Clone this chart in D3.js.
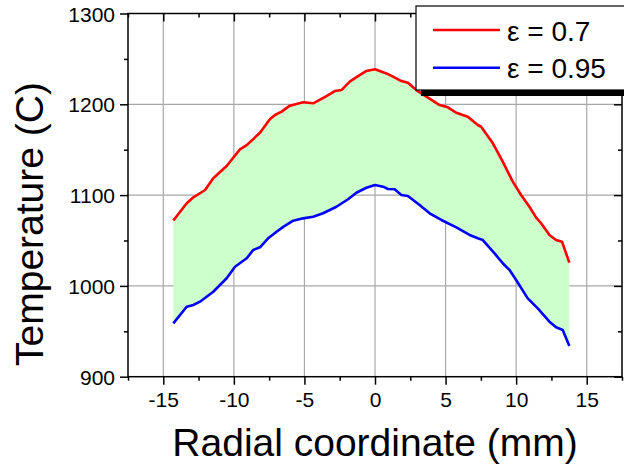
<!DOCTYPE html>
<html><head><meta charset="utf-8">
<script src="https://cdn.jsdelivr.net/npm/d3@7"></script>
<style>body{margin:0;background:#fff;}svg{display:block;font-family:"Liberation Sans",Arial,sans-serif;}</style>
</head><body>
<svg id="c" width="624" height="465"></svg>
<script>
const xTicks = [-15, -10, -5, 0, 5, 10, 15];
const yTicks = [900, 1000, 1100, 1200, 1300];
const seriesNames = ["ε = 0.7", "ε = 0.95"];
const xRed = [-14.29,-13.34,-12.87,-12.04,-11.46,-10.51,-9.57,-9.09,-8.15,-7.45,-7.09,-6.62,-6.03,-5.09,-4.38,-3.44,-2.85,-2.38,-1.79,-1.2,-0.61,0,0.81,1.27,1.87,2.33,2.93,3.64,4.58,5.16,5.76,6.58,7.28,7.52,8.35,9.05,9.76,10.35,10.94,11.41,11.77,12.36,12.83,13.25,13.77];
const tRed = [1072,1091,1097.6,1105.6,1118.5,1132,1150.4,1155,1168.7,1183.5,1188.2,1191.9,1198.5,1202.2,1201.1,1209,1214.6,1215.7,1224.9,1231,1236.7,1238.5,1234,1230.4,1225.6,1223.8,1215.7,1208.4,1199.2,1196.7,1190.7,1186.3,1177.2,1175.3,1157,1136.8,1114.8,1100.1,1087.2,1075.5,1069,1056,1050.5,1048.7,1025.6];
const xBlue = [-14.29,-13.34,-12.87,-12.4,-11.46,-10.51,-9.92,-9.09,-8.63,-8.15,-7.57,-6.74,-6.5,-5.8,-5.09,-4.38,-3.68,-2.73,-1.91,-1.32,-0.61,0,0.57,0.92,1.39,1.87,2.33,3.16,3.87,4.7,5.76,6.7,7.28,7.64,8.47,9.05,9.53,10.0,10.82,11.53,12.36,12.83,13.3,13.77];
const tBlue = [958.8,977.1,979,982.6,993.6,1008.4,1021.1,1030.4,1039.5,1042.5,1052.4,1062.3,1065,1071.8,1074.4,1076.2,1080,1087.2,1095.4,1102.6,1108.1,1111.1,1109.3,1106.7,1106.4,1100.1,1099,1089.1,1080,1072.6,1064.5,1056.1,1052.4,1050.5,1035.9,1024.9,1017.5,1006.5,986.3,975.3,960.6,954.4,951.4,933.8];

const L = 128, T = 13.5, R = 622, B = 376.7;
const svg = d3.select("#c");
const x = d3.scaleLinear().domain([-17.5, 17.5]).range([L, R]);
const y = d3.scaleLinear().domain([900, 1300]).range([B, T]);
const minorX = d3.range(-17.5, 17.6, 2.5).filter(v => !xTicks.includes(v));
const minorY = d3.range(950, 1300, 100);
const fmt = d => String(d);

// grid
const g = svg.append("g");
g.selectAll("line.gx").data(xTicks).join("line")
  .attr("x1", d => x(d)).attr("x2", d => x(d)).attr("y1", T).attr("y2", B)
  .attr("stroke", "#a8a8a8").attr("stroke-width", 1.2);
g.selectAll("line.gy").data(yTicks.filter(v => v > 900 && v < 1300)).join("line")
  .attr("x1", L).attr("x2", R).attr("y1", d => y(d)).attr("y2", d => y(d))
  .attr("stroke", "#a8a8a8").attr("stroke-width", 1.2);

// fill between
const redPts = xRed.map((v, i) => [x(v), y(tRed[i])]);
const bluePts = xBlue.map((v, i) => [x(v), y(tBlue[i])]);
const poly = redPts.concat(bluePts.slice().reverse());
svg.append("path").attr("d", d3.line()(poly) + "Z").attr("fill", "#ccffcc").attr("stroke", "none");

const line = d3.line();
svg.append("path").attr("d", line(redPts)).attr("fill", "none").attr("stroke", "#ff0000").attr("stroke-width", 2.6).attr("stroke-linejoin", "round");
svg.append("path").attr("d", line(bluePts)).attr("fill", "none").attr("stroke", "#0000ff").attr("stroke-width", 2.6).attr("stroke-linejoin", "round");

// axes
const ax = svg.append("g").attr("stroke", "#000").attr("stroke-width", 1.5);
ax.append("rect").attr("x", L).attr("y", T).attr("width", R - L).attr("height", B - T).attr("fill", "none");
const bottom = d3.axisBottom(x).tickValues(xTicks).tickSize(8).tickFormat(fmt);
const bAxis = svg.append("g").attr("transform", `translate(0,${B})`).call(bottom);
bAxis.select(".domain").remove();
bAxis.selectAll(".tick line").attr("stroke-width", 1.5);
bAxis.selectAll("text").attr("font-size", 21).attr("font-family", "Liberation Sans, Arial").attr("fill", "#000").attr("dy", null).attr("y", 30);
svg.append("g").attr("transform", `translate(0,${B})`).call(d3.axisBottom(x).tickValues(minorX).tickSize(4).tickFormat(""))
  .call(s => { s.select(".domain").remove(); s.selectAll("line").attr("stroke-width", 1.5); });
// top
svg.append("g").attr("transform", `translate(0,${T})`).call(d3.axisBottom(x).tickValues(xTicks).tickSize(8).tickFormat(""))
  .call(s => { s.select(".domain").remove(); s.selectAll("line").attr("stroke-width", 1.5); });
svg.append("g").attr("transform", `translate(0,${T})`).call(d3.axisBottom(x).tickValues(minorX).tickSize(4).tickFormat(""))
  .call(s => { s.select(".domain").remove(); s.selectAll("line").attr("stroke-width", 1.5); });
// left
const lAxis = svg.append("g").attr("transform", `translate(${L},0)`).call(d3.axisLeft(y).tickValues(yTicks).tickSize(8).tickPadding(5).tickFormat(fmt));
lAxis.select(".domain").remove();
lAxis.selectAll(".tick line").attr("stroke-width", 1.5);
lAxis.selectAll("text").attr("font-size", 21).attr("font-family", "Liberation Sans, Arial").attr("fill", "#000").attr("dy", "0.36em");
svg.append("g").attr("transform", `translate(${L},0)`).call(d3.axisLeft(y).tickValues(minorY).tickSize(4).tickFormat(""))
  .call(s => { s.select(".domain").remove(); s.selectAll("line").attr("stroke-width", 1.5); });
// right
svg.append("g").attr("transform", `translate(${R},0)`).call(d3.axisLeft(y).tickValues(yTicks).tickSize(8).tickFormat(""))
  .call(s => { s.select(".domain").remove(); s.selectAll("line").attr("stroke-width", 1.5); });
svg.append("g").attr("transform", `translate(${R},0)`).call(d3.axisLeft(y).tickValues(minorY).tickSize(4).tickFormat(""))
  .call(s => { s.select(".domain").remove(); s.selectAll("line").attr("stroke-width", 1.5); });

// titles
svg.append("text").attr("x", 375).attr("y", 456).attr("text-anchor", "middle").attr("font-size", 39).attr("fill", "#000")
  .text("Radial coordinate (mm)");
svg.append("text").attr("transform", "translate(43,224) rotate(-90)").attr("text-anchor", "middle").attr("font-size", 39).attr("fill", "#000")
  .text("Temperature (C)");

// legend
const lg = svg.append("g");
lg.append("rect").attr("x", 421).attr("y", 12).attr("width", 260).attr("height", 84).attr("fill", "#000");
lg.append("rect").attr("x", 416).attr("y", 6).attr("width", 260).attr("height", 84).attr("fill", "#fff").attr("stroke", "#000").attr("stroke-width", 1.2);
const colors = ["#ff0000", "#0000ff"];
const ly = [30, 67.7];
seriesNames.forEach((n, i) => {
  lg.append("line").attr("x1", 433).attr("x2", 500).attr("y1", ly[i]).attr("y2", ly[i]).attr("stroke", colors[i]).attr("stroke-width", 2.6);
  lg.append("text").attr("x", 507).attr("y", ly[i] + 10.5).attr("font-size", 28).attr("fill", "#000").text(n);
});
</script>
</body></html>
